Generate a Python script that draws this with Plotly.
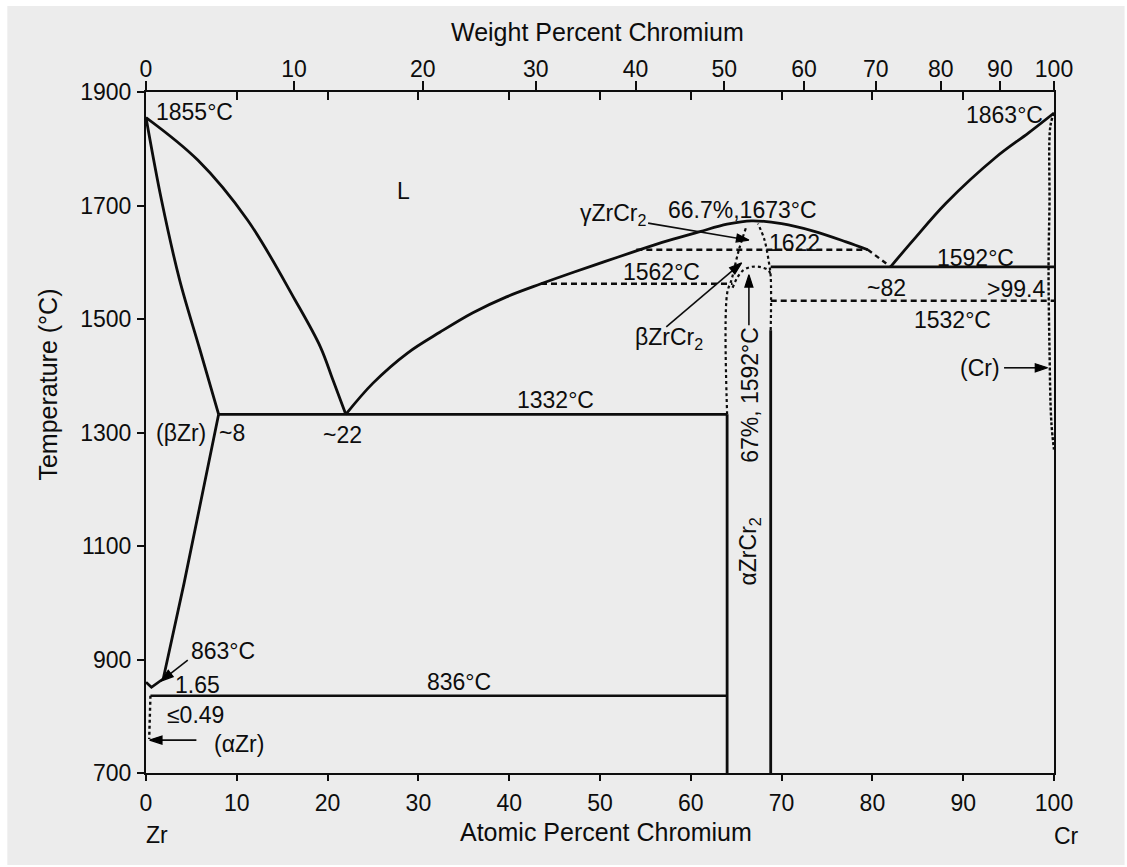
import plotly.graph_objects as go

# ---- Zr-Cr phase diagram (x: atomic percent Cr, y: temperature in deg C) ----

# Atomic weights, used to place the weight-percent scale on the top axis
M_CR = 51.996
M_ZR = 91.224

# Liquidus, Zr-rich branch: Zr melting point down to the eutectic
liq_zr_x = [0, 5.7, 11.2, 16.4, 19.2, 20.6, 22]
liq_zr_t = [1855, 1780, 1674, 1534, 1451, 1392, 1332]

# Solidus of (betaZr)
sol_bzr_x = [0, 1.7, 3.7, 5.9, 8]
sol_bzr_t = [1855, 1710, 1569, 1448, 1332]

# Solvus of (betaZr) towards the eutectoid region
solv_bzr_x = [8, 6.1, 4.2, 1.9, 0.6, 0]
solv_bzr_t = [1332, 1181, 1035, 866, 851, 860]

# Liquidus from the eutectic over the ZrCr2 maximum
liq_mid_x = [22, 25, 28.8, 32.4, 36, 39.7, 43.5, 47, 50.5, 54, 57.5, 61, 64, 66.7,
             70, 73.5, 77.1, 79.5]
liq_mid_t = [1332, 1387, 1440, 1477, 1511, 1539, 1562, 1582, 1601, 1620, 1638, 1654, 1667, 1673,
             1668, 1655, 1636, 1622]

# Uncertain liquidus piece down to the Cr-side eutectic
liq_dash_x = [79.5, 82]
liq_dash_t = [1622, 1592]

# Liquidus, Cr-rich branch
liq_cr_x = [82, 84.5, 88.1, 93.6, 97.2, 100]
liq_cr_t = [1592, 1639, 1704, 1785, 1828, 1863]

# Invariant lines (solid)
eut_zr_x = [8, 64]
eut_zr_t = [1332, 1332]
eut_cr_x = [68.8, 100]
eut_cr_t = [1592, 1592]
eutectoid_x = [0.49, 64]
eutectoid_t = [836, 836]

# Invariant lines (dashed)
iso_1562_x = [43.5, 64.6]
iso_1562_t = [1562, 1562]
iso_1622_x = [54, 79.5]
iso_1622_t = [1622, 1622]
iso_1532_x = [68.8, 100]
iso_1532_t = [1532, 1532]

# ZrCr2 homogeneity range: solid parts
zrcr2_left_x = [64, 64]
zrcr2_left_t = [700, 1332]
zrcr2_right_x = [68.8, 68.8]
zrcr2_right_t = [700, 1480]

# ZrCr2 boundaries: dotted parts (gamma region and beta dome)
zrcr2_left_dot_x = [64, 64, 64.5, 65.3, 66.1]
zrcr2_left_dot_t = [1332, 1545, 1570, 1622, 1662]
zrcr2_right_dot_x = [68.8, 68.8, 68.6, 68.1, 67.4]
zrcr2_right_dot_t = [1480, 1575, 1600, 1640, 1668]
beta_dome_x = [64.6, 65.2, 65.8, 66.7, 67.8, 68.6, 68.8]
beta_dome_t = [1555, 1575, 1586, 1592, 1591, 1585, 1575]

# (alphaZr) solvus and (Cr) solidus/solvus
solv_azr_x = [0.49, 0.35]
solv_azr_t = [836, 760]
solv_cr_x = [100, 99.6, 99.5, 99.4, 99.5, 99.7, 100]
solv_cr_t = [1863, 1840, 1700, 1592, 1450, 1320, 1270]

# Leader arrows: ([tail x, tip x], [tail t, tip t])
arrow_gzrcr2 = ([55.3, 66.4], [1669, 1639])
arrow_bzrcr2 = ([57.3, 65.6], [1486, 1599])
arrow_67 = ([66.4, 66.4], [1489, 1578])
arrow_cr = ([94.5, 99.3], [1414, 1414])
arrow_azr = ([5.55, 0.4], [758, 758])
arrow_863 = ([4.6, 1.65], [899, 862])

# Axis ticks
at_ticks = [0, 10, 20, 30, 40, 50, 60, 70, 80, 90, 100]
wt_ticks = [0, 10, 20, 30, 40, 50, 60, 70, 80, 90, 100]
t_ticks = [700, 900, 1100, 1300, 1500, 1700, 1900]


def wt_to_at(w):
    n_cr = w / M_CR
    n_zr = (100 - w) / M_ZR
    return 100 * n_cr / (n_cr + n_zr)


INK = "#0d0d0d"
FONT = "Liberation Sans"

fig = go.Figure()


def add_line(x, t, dash="solid", width=2.8, spline=False):
    fig.add_trace(go.Scatter(
        x=x, y=t, mode="lines", hoverinfo="skip", showlegend=False,
        line=dict(color=INK, width=width, dash=dash,
                  shape="spline" if spline else "linear",
                  smoothing=1.0 if spline else None),
    ))


def add_arrow(xy):
    x, t = xy
    fig.add_trace(go.Scatter(
        x=x, y=t, mode="lines+markers", hoverinfo="skip", showlegend=False,
        line=dict(color=INK, width=1.6),
        marker=dict(symbol="arrow", size=[0, 13], angleref="previous",
                    color="#000000", opacity=1, line=dict(width=1.2, color="#000000")),
    ))


add_line(liq_zr_x, liq_zr_t, spline=True)
add_line(sol_bzr_x, sol_bzr_t, spline=True)
add_line(solv_bzr_x, solv_bzr_t)
add_line(liq_mid_x, liq_mid_t, spline=True)
add_line(liq_dash_x, liq_dash_t, dash="5px,4px", width=2.4)
add_line(liq_cr_x, liq_cr_t, spline=True)
add_line(eut_zr_x, eut_zr_t)
add_line(eut_cr_x, eut_cr_t)
add_line(eutectoid_x, eutectoid_t, width=2.4)
add_line(iso_1562_x, iso_1562_t, dash="6px,4px", width=2.5)
add_line(iso_1622_x, iso_1622_t, dash="6px,4px", width=2.5)
add_line(iso_1532_x, iso_1532_t, dash="6px,4px", width=2.5)
add_line(zrcr2_left_x, zrcr2_left_t)
add_line(zrcr2_right_x, zrcr2_right_t)
add_line(zrcr2_left_dot_x, zrcr2_left_dot_t, dash="3px,3px", width=2.2, spline=True)
add_line(zrcr2_right_dot_x, zrcr2_right_dot_t, dash="3px,3px", width=2.2, spline=True)
add_line(beta_dome_x, beta_dome_t, dash="3px,3px", width=2.2, spline=True)
add_line(solv_azr_x, solv_azr_t, dash="3px,3px", width=2.4)
add_line(solv_cr_x, solv_cr_t, dash="3px,2px", width=2.4, spline=True)

for arrow in (arrow_gzrcr2, arrow_bzrcr2, arrow_67, arrow_cr, arrow_azr, arrow_863):
    add_arrow(arrow)

# Traces that anchor the two top axes
for ax in ("x2", "x3"):
    fig.add_trace(go.Scatter(x=[0, 100], y=[700, 700], xaxis=ax, mode="markers",
                             marker=dict(opacity=0), hoverinfo="skip", showlegend=False))

# Labels inside the diagram: (text, at.% Cr, deg C, rotation)
labels = [
    ("1855°C", 5.3, 1865, 0),
    ("1863°C", 94.5, 1860, 0),
    ("L", 28.4, 1726, 0),
    ("γZrCr<sub>2</sub>", 51.4, 1684, 0),
    ("66.7%,1673°C", 65.7, 1692, 0),
    ("1622", 71.4, 1634, 0),
    ("1562°C", 56.8, 1583, 0),
    ("βZrCr<sub>2</sub>", 57.6, 1465, 0),
    ("67%, 1592°C", 66.5, 1366, -90),
    ("αZrCr<sub>2</sub>", 66.5, 1090, -90),
    ("1592°C", 91.3, 1608, 0),
    ("~82", 81.5, 1555, 0),
    (">99.4", 95.8, 1553, 0),
    ("1532°C", 88.8, 1498, 0),
    ("(Cr)", 91.9, 1414, 0),
    ("1332°C", 45.1, 1358, 0),
    ("(βZr)", 3.8, 1299, 0),
    ("~8", 9.5, 1299, 0),
    ("~22", 21.6, 1296, 0),
    ("836°C", 34.5, 860, 0),
    ("863°C", 8.5, 915, 0),
    ("1.65", 5.7, 855, 0),
    ("≤0.49", 5.4, 802, 0),
    ("(αZr)", 10.2, 751, 0),
]

annotations = []
for text, x, t, rot in labels:
    annotations.append(dict(
        text=text, x=x, y=t, xref="x", yref="y", showarrow=False,
        xanchor="center", yanchor="middle", textangle=rot,
        font=dict(family=FONT, size=23, color=INK),
    ))

# Axis titles and element names
outer = [
    ("Weight Percent Chromium", 0.4967, 1.088, 0, 25),
    ("Atomic Percent Chromium", 0.5066, -0.0866, 0, 25),
    ("Temperature (°C)", -0.1075, 0.571, -90, 25),
    ("Zr", 0.0116, -0.091, 0, 23),
    ("Cr", 1.0138, -0.0925, 0, 23),
]
for text, x, y, rot, size in outer:
    annotations.append(dict(
        text=text, x=x, y=y, xref="paper", yref="paper", showarrow=False,
        xanchor="center", yanchor="middle", textangle=rot,
        font=dict(family=FONT, size=size, color=INK),
    ))

tick_font = dict(family=FONT, size=23, color=INK)

fig.update_layout(
    width=1127, height=867,
    margin=dict(l=146, r=73, t=92, b=94),
    paper_bgcolor="white",
    plot_bgcolor="rgba(0,0,0,0)",
    showlegend=False,
    annotations=annotations,
    shapes=[dict(
        type="rect", xref="paper", yref="paper", layer="below",
        x0=(8 - 146.5) / 907, x1=(1124 - 146.5) / 907,
        y0=(773 - 865) / 681, y1=(773 - 6) / 681,
        fillcolor="#ececec", line=dict(width=0),
    )],
    xaxis=dict(
        range=[0, 100], tickvals=at_ticks, ticktext=[str(v) for v in at_ticks],
        ticks="outside", ticklen=6, tickwidth=2, tickcolor=INK,
        showline=True, linewidth=2, linecolor=INK, mirror=False,
        showgrid=False, zeroline=False, tickfont=tick_font, ticklabelstandoff=2,
    ),
    xaxis2=dict(
        overlaying="x", side="top", range=[0, 100],
        tickvals=[wt_to_at(w) for w in wt_ticks], ticktext=[str(w) for w in wt_ticks],
        ticks="outside", ticklen=9, tickwidth=2, tickcolor=INK,
        showline=True, linewidth=2, linecolor=INK,
        showgrid=False, zeroline=False, tickfont=tick_font, ticklabelstandoff=-5,
    ),
    xaxis3=dict(
        overlaying="x", side="top", range=[0, 100],
        tickvals=at_ticks[1:-1], ticks="inside", ticklen=8, tickwidth=2, tickcolor=INK,
        showticklabels=False, showline=False, showgrid=False, zeroline=False,
    ),
    yaxis=dict(
        range=[700, 1900], tickvals=t_ticks, ticktext=[str(v) for v in t_ticks],
        ticks="outside", ticklen=7, tickwidth=2, tickcolor=INK,
        showline=True, linewidth=2, linecolor=INK, mirror=True,
        showgrid=False, zeroline=False, tickfont=tick_font, ticklabelstandoff=1,
    ),
)

fig.write_html("out.html")
